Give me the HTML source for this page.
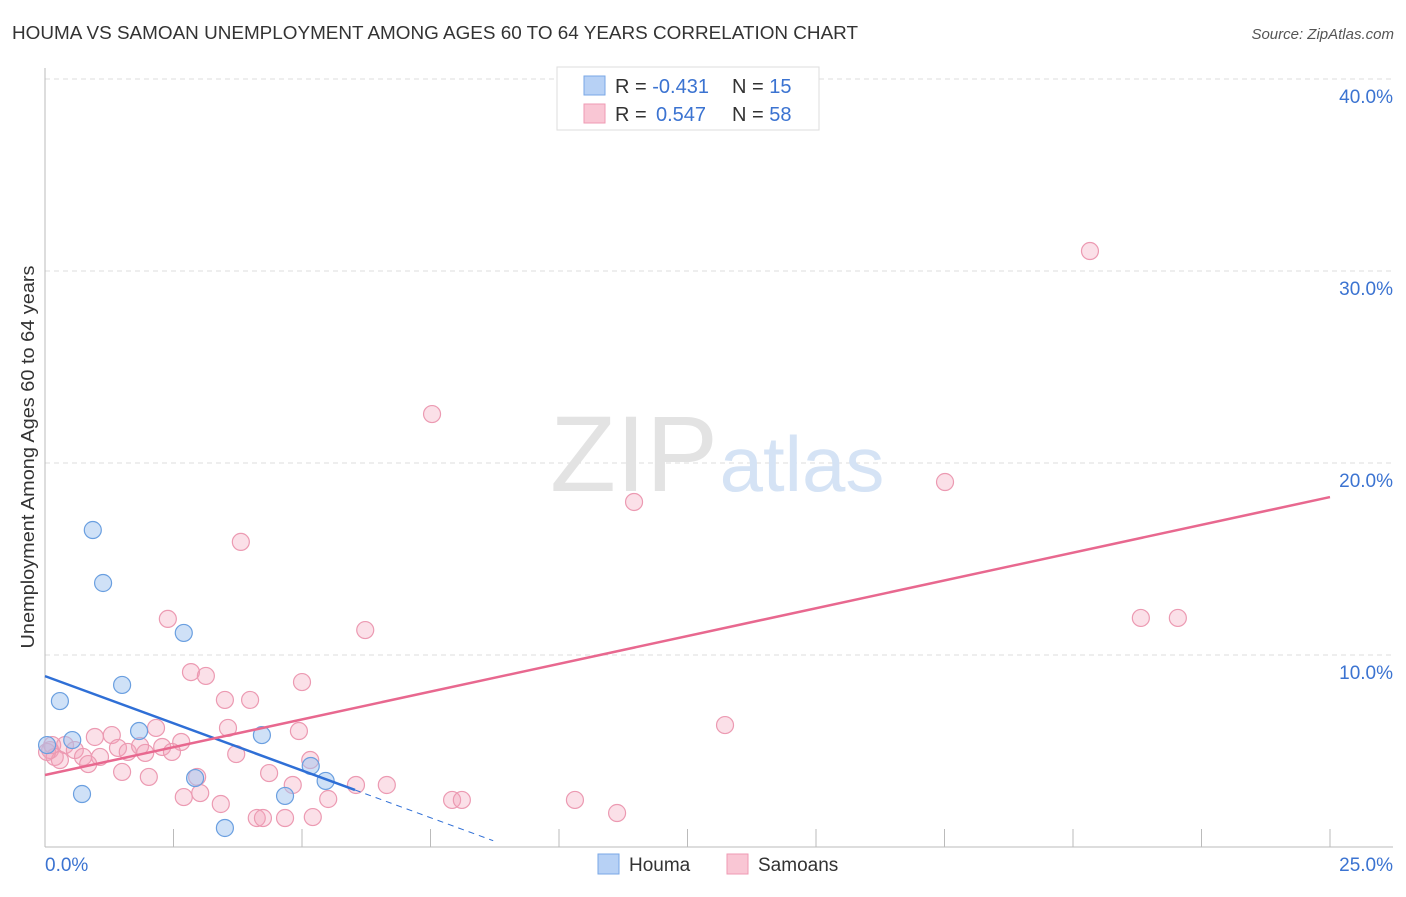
<!DOCTYPE html>
<html><head><meta charset="utf-8"><style>
body{margin:0;background:#fff;font-family:"Liberation Sans",sans-serif;}
svg text{font-family:"Liberation Sans",sans-serif;}
</style></head><body>
<svg id="chart" width="1406" height="892">
<text x="12" y="39" font-size="18" fill="#333" textLength="846" lengthAdjust="spacingAndGlyphs">HOUMA VS SAMOAN UNEMPLOYMENT AMONG AGES 60 TO 64 YEARS CORRELATION CHART</text>
<text x="1394" y="39" font-size="15" fill="#555" font-style="italic" text-anchor="end">Source: ZipAtlas.com</text>
<g id="grid"></g>
<g><text x="634" y="491" font-size="108" font-family="Liberation Serif" fill="#e3e3e3" text-anchor="middle">ZIP</text><text x="802" y="491" font-size="78" fill="#d5e3f5" text-anchor="middle">atlas</text></g>
<text transform="translate(34,457) rotate(-90)" font-size="18" fill="#333" text-anchor="middle" textLength="383" lengthAdjust="spacingAndGlyphs">Unemployment Among Ages 60 to 64 years</text>
<g id="points"></g>
<g id="lines"></g>
<g>
<rect x="557" y="67" width="262" height="63" fill="#fff" stroke="#ddd"/>
<rect x="584" y="76" width="21" height="19" fill="#b7d1f5" stroke="#7aa7e6"/>
<rect x="584" y="104" width="21" height="19" fill="#f9c6d4" stroke="#ef9ab3"/>
<text x="615" y="93" font-size="20" fill="#333">R = <tspan fill="#3b73d1">-0.431</tspan><tspan x="732">N = </tspan><tspan fill="#3b73d1">15</tspan></text>
<text x="615" y="121" font-size="20" fill="#333">R = <tspan x="656" fill="#3b73d1">0.547</tspan><tspan x="732">N = </tspan><tspan fill="#3b73d1">58</tspan></text>
</g>
<g>
<rect x="598" y="854" width="21" height="20" fill="#b7d1f5" stroke="#7aa7e6"/>
<text x="629" y="871" font-size="19" fill="#333">Houma</text>
<rect x="727" y="854" width="21" height="20" fill="#f9c6d4" stroke="#ef9ab3"/>
<text x="758" y="871" font-size="19" fill="#333">Samoans</text>
</g>
</svg>
<script>
const yTicks=[10,20,30,40];
const yTickLabels=["10.0%","20.0%","30.0%","40.0%"];
const xTickLabels=["0.0%","25.0%"];
const houmaX=[0.04,0.29,0.53,0.72,0.93,1.13,1.50,1.83,2.70,2.92,3.50,4.22,4.67,5.17,5.46];
const houmaY=[5.31,7.60,5.57,2.76,16.51,13.75,8.44,6.04,11.15,3.59,0.99,5.83,2.66,4.22,3.44];
const samX=[7.53,11.46,17.51,20.33,3.81,21.32,22.04,6.23,2.39,2.84,3.13,3.50,3.99,5.00,13.23,4.94,3.56,2.16,2.65,1.30,0.97,0.39,0.10,0.19,0.58,0.74,1.07,1.42,1.61,1.85,1.95,2.28,2.47,0.29,0.84,1.50,2.02,2.96,3.72,5.16,4.36,4.82,6.05,6.65,2.70,3.02,3.42,4.12,4.24,4.67,5.21,5.51,7.92,8.11,10.31,11.13,0.04,0.14];
const samY=[22.55,17.97,19.01,31.04,15.89,11.93,11.93,11.30,11.88,9.11,8.91,7.66,7.66,8.59,6.35,6.04,6.20,6.20,5.47,5.83,5.73,5.31,5.05,4.69,5.05,4.69,4.69,5.16,4.95,5.26,4.90,5.21,4.95,4.53,4.32,3.91,3.65,3.65,4.84,4.53,3.85,3.23,3.23,3.23,2.60,2.81,2.24,1.51,1.51,1.51,1.56,2.50,2.45,2.45,2.45,1.77,4.95,5.31];
const houmaTrend=[8.9,-0.983]; // intercept, slope
const houmaSolidEnd=6.03, houmaDashEnd=8.72;
const samTrend=[3.75,0.579];
const sx=v=>45+v*1285/25, sy=v=>847-v*19.2;
const NS="http://www.w3.org/2000/svg";
function mk(tag,attrs,parent){const e=document.createElementNS(NS,tag);for(const k in attrs)e.setAttribute(k,attrs[k]);parent.appendChild(e);return e;}
const grid=document.getElementById('grid');
yTicks.forEach((t,i)=>{
 const l=mk('line',{x1:45,x2:1393,y1:sy(t),y2:sy(t),stroke:'#ddd','stroke-dasharray':'5,4'},grid);
 
 
 const tx=mk('text',{x:1393,y:sy(t)+24,'font-size':19,fill:'#3b73d1','text-anchor':'end'},grid);
 tx.textContent=yTickLabels[i];
 
 
});
mk('line',{x1:45,x2:45,y1:68,y2:847,stroke:'#bbb'},grid);
mk('line',{x1:45,x2:1393,y1:847,y2:847,stroke:'#bbb'},grid);
for(let i=1;i<=10;i++){const t=mk('line',{x1:sx(i*2.5),x2:sx(i*2.5),y1:829,y2:847,stroke:'#bbb'},grid);}
[[0,45,'start'],[25,1393,'end']].forEach((d,i)=>{const t=mk('text',{x:d[1],y:871,'font-size':19,fill:'#3b73d1','text-anchor':d[2]},grid);t.textContent=xTickLabels[i];});
const pts=document.getElementById('points');
samX.forEach((x,i)=>{const c=mk('circle',{cx:sx(x),cy:sy(samY[i]),r:8.5,fill:'rgba(244,160,186,0.33)',stroke:'#ec9ab2','stroke-width':1.2},pts);

});
houmaX.forEach((x,i)=>{const c=mk('circle',{cx:sx(x),cy:sy(houmaY[i]),r:8.5,fill:'rgba(160,195,240,0.5)',stroke:'#6a9fe0','stroke-width':1.2},pts);

});
const ln=document.getElementById('lines');
const hy=x=>houmaTrend[0]+houmaTrend[1]*x, py=x=>samTrend[0]+samTrend[1]*x;
let a=mk('line',{x1:sx(0),y1:sy(hy(0)),x2:sx(houmaSolidEnd),y2:sy(hy(houmaSolidEnd)),stroke:'#2f6fd6','stroke-width':2.5},ln);


a=mk('line',{x1:sx(houmaSolidEnd),y1:sy(hy(houmaSolidEnd)),x2:sx(houmaDashEnd),y2:sy(hy(houmaDashEnd)),stroke:'#2f6fd6','stroke-width':1,'stroke-dasharray':'6,5'},ln);


a=mk('line',{x1:sx(0),y1:sy(py(0)),x2:sx(25),y2:sy(py(25)),stroke:'#e8688f','stroke-width':2.5},ln);


</script>
</body></html>
